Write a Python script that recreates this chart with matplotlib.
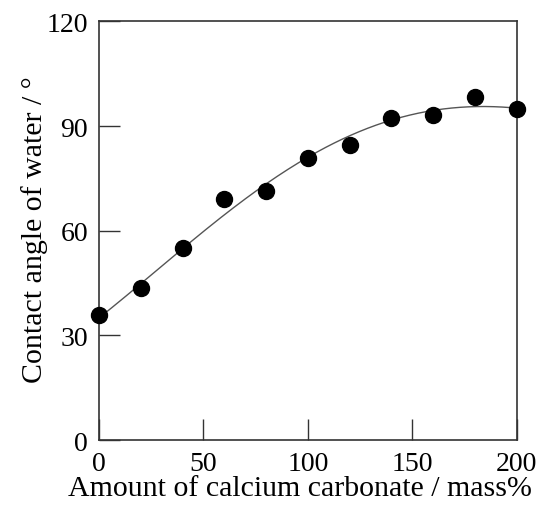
import numpy as np
import matplotlib
matplotlib.use("Agg")
import matplotlib.pyplot as plt

plt.rcParams['font.family'] = ['Liberation Serif', 'DejaVu Serif']

# amount of calcium carbonate (mass%) vs contact angle of water (deg)
caco3 = [0, 20, 40, 60, 80, 100, 120, 140, 160, 180, 200]
angle = [36.0, 43.5, 55.0, 69.0, 71.3, 80.7, 84.5, 92.4, 93.2, 98.3, 95.0]

# trend line
trend_x = [0, 40, 100, 140, 160, 180, 200]
trend_y = [35.0, 55.0, 80.7, 92.2, 94.5, 95.1, 95.3]

coef = np.polyfit(trend_x, trend_y, 4)
xs = np.linspace(0, 200, 200)
ys = np.polyval(coef, xs)

fig = plt.figure(figsize=(5.44, 5.06), dpi=100)
ax = fig.add_axes([0.182, 0.128, 0.768, 0.828])
ax.plot(xs, ys, color='#555555', lw=1.0, zorder=2)
ax.plot(caco3, angle, 'o', color='black', ms=11.5, zorder=3, clip_on=False)

ax.set_xlim(0, 200)
ax.set_ylim(0, 120)
ax.set_xticks([0, 50, 100, 150, 200])
ax.set_yticks([0, 30, 60, 90, 120])
ax.tick_params(direction='in', length=15, width=1, labelsize=20, pad=8, colors='#333333',
               labelcolor='black', top=False, right=False)
for s in ax.spines.values():
    s.set_color('#333333')
    s.set_linewidth(1.2)

ax.set_xlabel('Amount of calcium carbonate / mass%', fontsize=21.5)
ax.set_ylabel('Contact angle of water / °', fontsize=21.5)
ax.xaxis.set_label_coords(0.482, -0.082)
ax.yaxis.set_label_coords(-0.122, 0.505)

fig.savefig('out.png', dpi=100)
